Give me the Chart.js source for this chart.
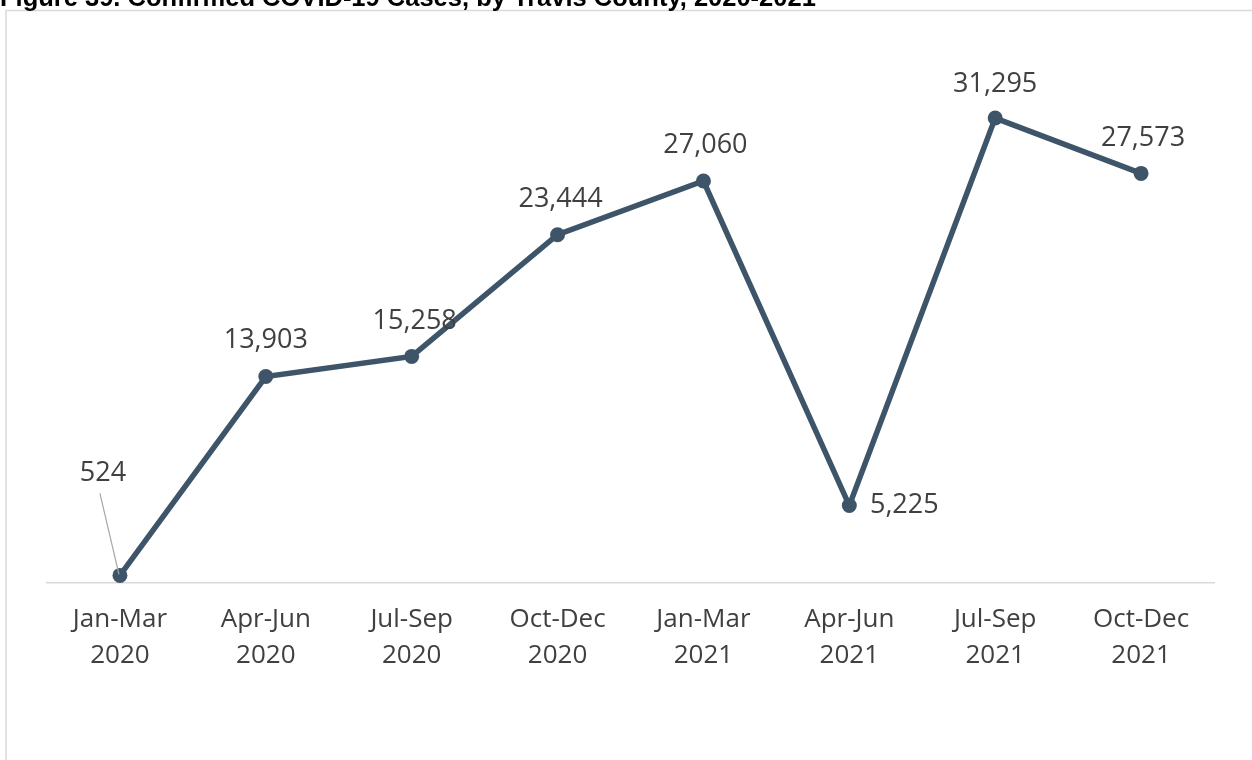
<!DOCTYPE html>
<html>
<head>
<meta charset="utf-8">
<script src="https://cdn.jsdelivr.net/npm/chart.js@4/dist/chart.umd.min.js"></script>
<style>
  html, body { margin: 0; padding: 0; background: #fff; overflow: hidden; }
  #wrap { position: relative; width: 1252px; height: 760px; overflow: hidden; }
  #title { position: absolute; left: 0; top: -18px; line-height: 30px; font-family: "Liberation Sans", Arial, sans-serif; font-weight: bold; font-size: 25.5px; color: #000; white-space: nowrap; }
  canvas { position: absolute; left: 0; top: 0; }
</style>
</head>
<body>
<div id="wrap">
  <canvas id="c" width="1252" height="760"></canvas>
  <div id="title">Figure 39. Confirmed COVID-19 Cases, by Travis County, 2020-2021</div>
</div>
<script>
const quarters = ["Jan-Mar", "Apr-Jun", "Jul-Sep", "Oct-Dec", "Jan-Mar", "Apr-Jun", "Jul-Sep", "Oct-Dec"];
const years = ["2020", "2020", "2020", "2020", "2021", "2021", "2021", "2021"];
const cases = [524, 13903, 15258, 23444, 27060, 5225, 31295, 27573];

const labels = quarters.map((q, i) => [q, years[i]]);

// label placement offsets (dx, dy) from each point, in pixels
const labelOffsets = [[-17, -102], [0, -36], [3, -35], [3, -35], [2, -36], [55, 0], [0, -34], [2, -35]];

const frame = {
  id: 'frame',
  beforeDraw(chart) {
    const ctx = chart.ctx;
    ctx.save();
    ctx.strokeStyle = '#d9d9d9';
    ctx.lineWidth = 1.5;
    ctx.strokeRect(6, 10.5, 1300, 800);
    ctx.restore();
  }
};

const dataLabels = {
  id: 'dataLabels',
  afterDatasetsDraw(chart) {
    const ctx = chart.ctx;
    const meta = chart.getDatasetMeta(0);
    ctx.save();
    ctx.font = '27px "Open Sans", sans-serif';
    ctx.fillStyle = '#404040';
    ctx.textAlign = 'center';
    ctx.textBaseline = 'middle';
    meta.data.forEach((pt, i) => {
      const [dx, dy] = labelOffsets[i];
      const x = pt.x + dx, y = pt.y + dy;
      ctx.fillText(cases[i].toLocaleString('en-US'), x, y);
      if (i === 0) {
        ctx.strokeStyle = '#a6a6a6';
        ctx.lineWidth = 1.2;
        ctx.beginPath();
        ctx.moveTo(x - 3, y + 20);
        ctx.lineTo(pt.x - 1, pt.y - 1);
        ctx.stroke();
      }
    });
    ctx.restore();
  }
};

new Chart(document.getElementById('c'), {
  type: 'line',
  data: {
    labels: labels,
    datasets: [{
      data: cases,
      borderColor: '#3e5569',
      backgroundColor: '#3e5569',
      borderWidth: 5.5,
      pointRadius: 7.5,
      pointHoverRadius: 7.5,
      pointBackgroundColor: '#3e5569',
      pointBorderWidth: 0,
      tension: 0,
      clip: false
    }]
  },
  options: {
    responsive: false,
    animation: false,
    devicePixelRatio: 1,
    layout: { padding: { left: 47, right: 38, top: 63, bottom: 68 } },
    plugins: { legend: { display: false }, tooltip: { enabled: false }, title: { display: false } },
    scales: {
      y: { display: false, min: 0, max: 35000 },
      x: {
        offset: true,
        grid: { display: false, drawTicks: false },
        border: { display: true, color: '#d9d9d9', width: 1.5 },
        ticks: {
          color: '#404040',
          padding: 18,
          maxRotation: 0,
          autoSkip: false,
          font: { family: '"Open Sans", sans-serif', size: 26, lineHeight: 1.4 }
        }
      }
    }
  },
  plugins: [frame, dataLabels]
});
</script>
</body>
</html>
